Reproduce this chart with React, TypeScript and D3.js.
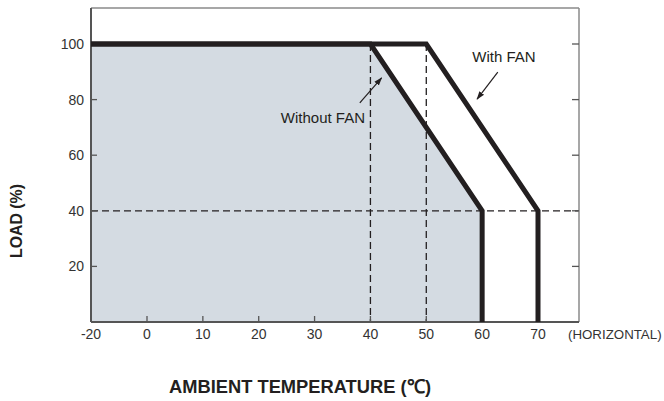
import React from "react";
import * as d3 from "d3";

// derating curves: ambient temperature (C) vs load (%)
const withoutFanTemp = [-20, 40, 60, 60];
const withoutFanLoad = [100, 100, 40, 0];
const withFanTemp = [-20, 50, 70, 70];
const withFanLoad = [100, 100, 40, 0];

const xTicks = [-20, 0, 10, 20, 30, 40, 50, 60, 70];
const yTicks = [20, 40, 60, 80, 100];

// reference guides (dashed)
const guideTemps = [40, 50];
const guideLoad = 40;

// callouts: [labelX, labelY, arrowFromX, arrowFromY, arrowToX, arrowToY]
const calloutLabels = ["Without FAN", "With FAN"];
const calloutPos = [
  [31.5, 73.5, 38.1, 78.8, 42.0, 87.8],
  [63.9, 95.3, 62.8, 89.9, 59.1, 80.2],
];

const W = 664;
const H = 401;
const left = 91;
const right = 579;
const top = 8;
const bottom = 322;

const App = () => {
  // -20 sits one step left of 0 on the original chart, so the scale is piecewise
  const x = d3.scaleLinear().domain([-20, 0, 70]).range([left, 147, 538]);
  const y = d3.scaleLinear().domain([0, 100]).range([bottom, 44]);

  const pts = (t: number[], l: number[]) => t.map((v, i) => [x(v), y(l[i])] as [number, number]);
  const line = d3.line();

  const area = [[x(-20), y(0)] as [number, number], ...pts(withoutFanTemp, withoutFanLoad)];

  const font = "'Liberation Sans', Arial, Helvetica, sans-serif";
  const ink = "#231f20";

  return (
    <svg width={W} height={H} style={{ position: "absolute", left: 0, top: 0 }} fontFamily={font}>
      <defs>
        <marker id="arr" viewBox="0 0 10 10" refX="9" refY="5" markerWidth="7" markerHeight="7" orient="auto">
          <path d="M0,1.5 L10,5 L0,8.5 z" fill={ink} />
        </marker>
      </defs>
      <rect x={0} y={0} width={W} height={H} fill="#fff" />
      <path d={line(area) + "Z"} fill="#d4dbe2" />

      {/* dashed guides */}
      {guideTemps.map((t) => (
        <line key={t} x1={x(t)} x2={x(t)} y1={y(100)} y2={bottom} stroke={ink} strokeWidth={1.3} strokeDasharray="7,4" />
      ))}
      <line x1={left} x2={right} y1={y(guideLoad)} y2={y(guideLoad)} stroke={ink} strokeWidth={1.3} strokeDasharray="7,4" />

      {/* frame */}
      <line x1={left} x2={right} y1={top} y2={top} stroke="#8a8a8a" strokeWidth={1.5} />
      <line x1={right} x2={right} y1={top} y2={bottom} stroke="#8a8a8a" strokeWidth={1.5} />
      <line x1={left} x2={left} y1={top} y2={bottom} stroke="#555" strokeWidth={2} />
      <line x1={left} x2={right} y1={bottom} y2={bottom} stroke="#555" strokeWidth={2} />

      {/* ticks inside */}
      {yTicks.map((v) => (
        <g key={v}>
          <line x1={left} x2={left + 6} y1={y(v)} y2={y(v)} stroke="#555" strokeWidth={1.3} />
          <line x1={right - 7} x2={right} y1={y(v)} y2={y(v)} stroke="#555" strokeWidth={1.3} />
          <text x={left - 7} y={y(v)} dy="0.35em" textAnchor="end" fontSize={14} fill="#333">
            {v}
          </text>
        </g>
      ))}
      {xTicks.map((v) => (
        <g key={v}>
          {v > -20 && <line x1={x(v)} x2={x(v)} y1={bottom} y2={bottom - 6} stroke="#555" strokeWidth={1.3} />}
          <text x={x(v)} y={bottom + 17} textAnchor="middle" fontSize={14} fill="#333">
            {v}
          </text>
        </g>
      ))}
      <text x={568} y={bottom + 17} fontSize={13.3} fill="#333">
        (HORIZONTAL)
      </text>

      {/* curves */}
      <path d={line(pts(withFanTemp, withFanLoad)) ?? ""} fill="none" stroke={ink} strokeWidth={5} strokeLinejoin="miter" />
      <path d={line(pts(withoutFanTemp, withoutFanLoad)) ?? ""} fill="none" stroke={ink} strokeWidth={5} strokeLinejoin="miter" />

      {/* callouts */}
      {calloutLabels.map((lab, i) => {
        const p = calloutPos[i];
        return (
          <g key={lab}>
            <text x={x(p[0])} y={y(p[1])} dy="0.35em" textAnchor="middle" fontSize={15} fill={ink}>
              {lab}
            </text>
            <line x1={x(p[2])} y1={y(p[3])} x2={x(p[4])} y2={y(p[5])} stroke={ink} strokeWidth={1.2} markerEnd="url(#arr)" />
          </g>
        );
      })}

      {/* axis titles */}
      <text x={300} y={393} textAnchor="middle" fontSize={19} fontWeight="bold" fill={ink} textLength={262} lengthAdjust="spacingAndGlyphs">
        AMBIENT TEMPERATURE (℃)
      </text>
      <text transform="translate(22,221) rotate(-90)" textAnchor="middle" fontSize={16.5} fontWeight="bold" fill={ink} textLength={74} lengthAdjust="spacingAndGlyphs">
        LOAD (%)
      </text>
    </svg>
  );
};

export default App;
